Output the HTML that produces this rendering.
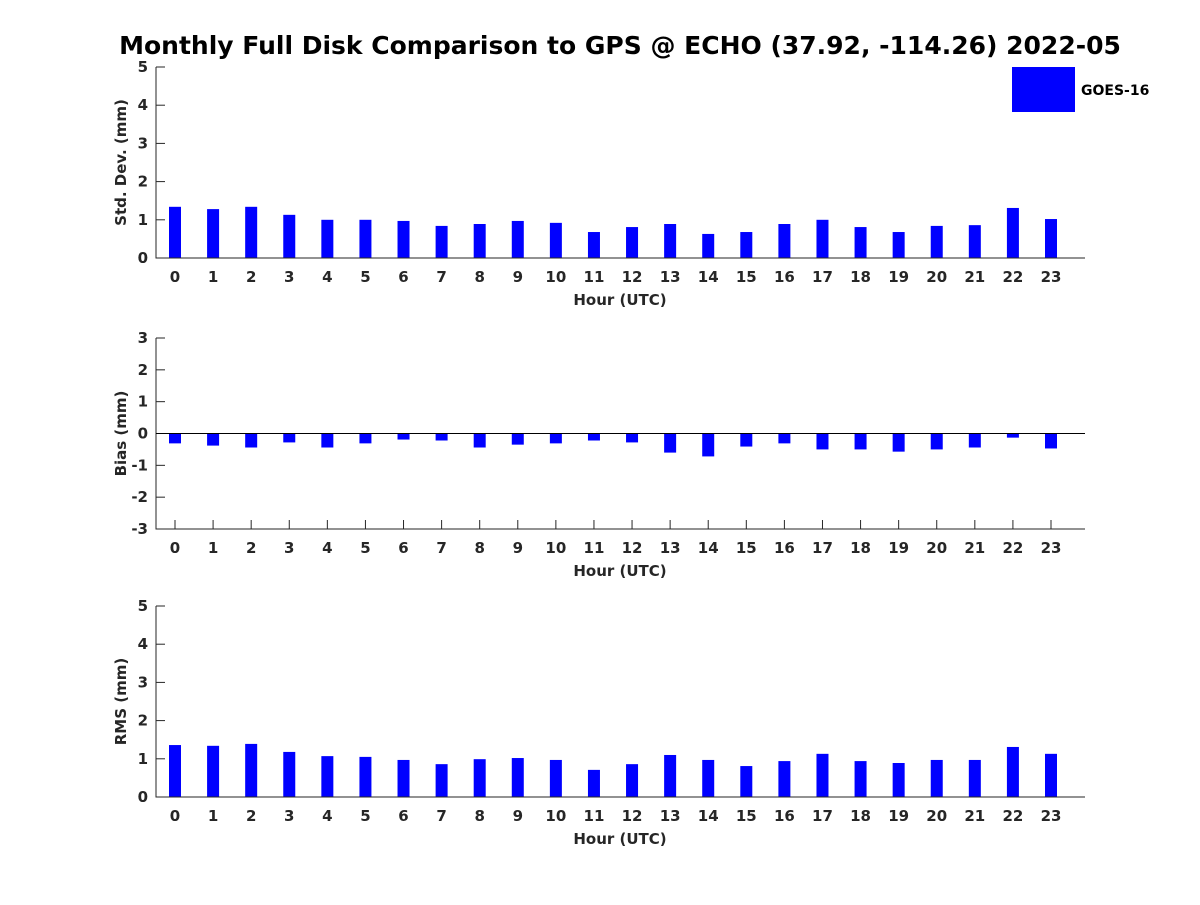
<!DOCTYPE html>
<html><head><meta charset="utf-8"><style>
body{margin:0;background:#fff;}
svg text{font-family:"DejaVu Sans","Liberation Sans",sans-serif;font-weight:bold;fill:#262626;}
</style></head><body>
<svg id="chart" width="1200" height="900" xmlns="http://www.w3.org/2000/svg">
<text x="620" y="54" text-anchor="middle" font-size="25" style="fill:#000">Monthly Full Disk Comparison to GPS @ ECHO (37.92, -114.26) 2022-05</text>
<g>
<rect x="1012" y="67" width="63" height="45" fill="#0000ff"/>
<text x="1081" y="95" font-size="14" style="fill:#000">GOES-16</text>
</g>
</svg>
<script>
const hours=[0,1,2,3,4,5,6,7,8,9,10,11,12,13,14,15,16,17,18,19,20,21,22,23];
const stdDev=[1.34,1.28,1.34,1.13,1.0,1.0,0.97,0.84,0.89,0.97,0.92,0.68,0.81,0.89,0.63,0.68,0.89,1.0,0.81,0.68,0.84,0.86,1.31,1.02];
const bias=[-0.31,-0.38,-0.44,-0.28,-0.44,-0.31,-0.19,-0.22,-0.44,-0.35,-0.31,-0.22,-0.28,-0.6,-0.72,-0.41,-0.31,-0.5,-0.5,-0.57,-0.5,-0.44,-0.13,-0.47];
const rms=[1.36,1.34,1.39,1.18,1.07,1.05,0.97,0.86,0.99,1.02,0.97,0.71,0.86,1.1,0.97,0.81,0.94,1.13,0.94,0.89,0.97,0.97,1.31,1.13];
const stdTicks=[0,1,2,3,4,5];
const biasTicks=[-3,-2,-1,0,1,2,3];
const rmsTicks=[0,1,2,3,4,5];
const NS="http://www.w3.org/2000/svg";
const svg=document.getElementById('chart');
function mk(t,a){const e=document.createElementNS(NS,t);for(const k in a)e.setAttribute(k,a[k]);return e;}
function panel(name,vals,ticks,ymin,ymax,top,bottom,ylabel,zeroLine){
  const g=mk('g',{});
  
  
  svg.appendChild(g);
  const L=156,R=1085,x0=175,dx=(1051-175)/23;
  const X=h=>x0+h*dx;
  const Y=v=>bottom-(v-ymin)/(ymax-ymin)*(bottom-top);
  ticks.forEach(t=>{
    g.appendChild(mk('line',{x1:L,x2:L+9,y1:Y(t),y2:Y(t),stroke:'#262626'}));
    const tx=mk('text',{x:L-8,y:Y(t)+5,'text-anchor':'end','font-size':15});
    tx.textContent=t;
    
    
    g.appendChild(tx);
  });
  hours.forEach(h=>{
    g.appendChild(mk('line',{x1:X(h),x2:X(h),y1:bottom,y2:bottom-9,stroke:'#262626'}));
    const tx=mk('text',{x:X(h),y:bottom+24,'text-anchor':'middle','font-size':15});
    tx.textContent=h;
    
    
    g.appendChild(tx);
  });
  vals.forEach((v,i)=>{
    const y1=Y(Math.max(v,0)),y2=Y(Math.min(v,0));
    const r=mk('rect',{x:X(hours[i])-6,y:y1,width:12,height:Math.max(y2-y1,0.5),fill:'#0000ff'});
    
    
    g.appendChild(r);
  });
  const ax=mk('path',{d:`M${L} ${top}V${bottom}H${R}`,stroke:'#262626','stroke-width':1,fill:'none'});
  
  
  g.appendChild(ax);
  if(zeroLine){
    const z=mk('line',{x1:L,x2:R,y1:Y(0),y2:Y(0),stroke:'#000','stroke-width':1});
    
    
    g.appendChild(z);
  }
  const xl=mk('text',{x:620,y:bottom+47,'text-anchor':'middle','font-size':15});
  xl.textContent='Hour (UTC)';
  
  
  g.appendChild(xl);
  const cy=(top+bottom)/2;
  const yl=mk('text',{x:126,y:cy,'text-anchor':'middle','font-size':15,transform:`rotate(-90 126 ${cy})`});
  yl.textContent=ylabel;
  
  
  g.appendChild(yl);
}
panel('std-dev',stdDev,stdTicks,0,5,67,258,'Std. Dev. (mm)',false);
panel('bias',bias,biasTicks,-3,3,338,529,'Bias (mm)',true);
panel('rms',rms,rmsTicks,0,5,606,797,'RMS (mm)',false);
</script>
</body></html>
